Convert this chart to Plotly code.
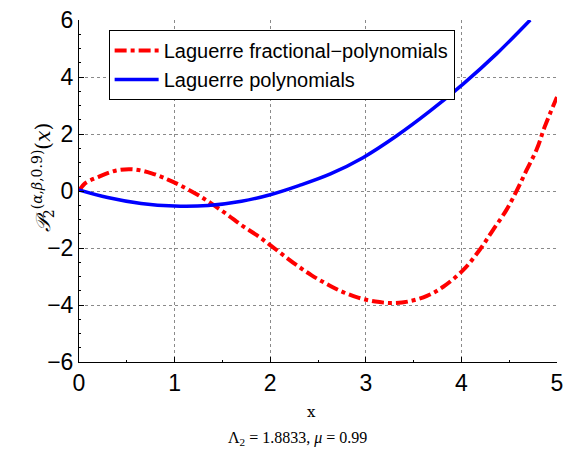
import plotly.graph_objects as go

# Data
x_frac = [0, 0.06, 0.2, 0.39, 0.57, 0.76, 0.93, 1.07, 1.25, 1.39, 1.56, 1.7, 1.86, 2.0,
          2.14, 2.28, 2.43, 2.59, 2.75, 2.92, 3.1, 3.28, 3.44, 3.64, 3.81, 4.02, 4.19,
          4.33, 4.47, 4.58, 4.68, 4.79, 4.87, 5.0]
y_frac = [0, 0.26, 0.49, 0.72, 0.76, 0.62, 0.40, 0.18, -0.15, -0.45, -0.85, -1.2, -1.55, -1.9,
          -2.26, -2.61, -2.95, -3.26, -3.53, -3.74, -3.88, -3.93, -3.88, -3.68, -3.36, -2.77,
          -2.07, -1.37, -0.67, 0.02, 0.72, 1.48, 2.24, 3.3]

x_poly = [0, 0.3, 0.65, 1.0, 1.35, 1.7, 2.0, 2.3, 2.63, 2.97, 3.32, 3.67, 4.02, 4.37, 4.72]
y_poly = [0.04, -0.23, -0.44, -0.53, -0.51, -0.36, -0.13, 0.19, 0.6, 1.17, 1.93, 2.8, 3.76, 4.82, 6.0]

x_ticks = [0, 1, 2, 3, 4, 5]
y_ticks = [-6, -4, -2, 0, 2, 4, 6]

fig = go.Figure()
fig.add_trace(go.Scatter(
    x=x_frac, y=y_frac, mode="lines", line_shape="spline",
    name="Laguerre fractional\u2212polynomials",
    line=dict(color="#ff0000", width=4, dash="dashdot"),
))
fig.add_trace(go.Scatter(
    x=x_poly, y=y_poly, mode="lines", line_shape="spline",
    name="Laguerre polynomials",
    line=dict(color="#0000ff", width=3.5),
))

axis_common = dict(
    showline=True, linecolor="black", linewidth=1,
    ticks="inside", ticklen=5, tickcolor="black",
    showgrid=True, gridcolor="#8a8a8a", griddash="dot", gridwidth=1,
    zeroline=False, mirror=False, automargin=False,
    tickfont=dict(family="Liberation Sans, Arial, sans-serif", size=23, color="black"),
    minor=dict(ticks="inside", ticklen=2, tickcolor="black", showgrid=False),
)

fig.update_layout(
    width=568, height=454,
    margin=dict(l=79, r=11, t=20, b=92),
    plot_bgcolor="white", paper_bgcolor="white",
    showlegend=True,
    legend=dict(
        x=0.062, y=0.971, xanchor="left", yanchor="top",
        bordercolor="black", borderwidth=1, bgcolor="white",
        font=dict(family="Liberation Sans, Arial, sans-serif", size=20, color="black"),
        tracegroupgap=0, itemwidth=44,
    ),
    xaxis=dict(range=[0, 5], tickvals=x_ticks, **axis_common),
    yaxis=dict(range=[-6, 6], tickvals=y_ticks, **axis_common),
)

fig.add_annotation(
    text="<i>\U0001D4AB</i><sub>2</sub><sup>(<i>\u03b1</i>,<i>\u03b2</i>,0.9)</sup>(<i>x</i>)",
    xref="paper", yref="paper", x=-0.11, y=0.54, textangle=-90,
    showarrow=False, font=dict(family="DejaVu Serif, serif", size=20, color="black"),
)
fig.add_annotation(
    text="x", xref="paper", yref="paper", x=0.487, y=-0.146, yanchor="middle",
    showarrow=False, font=dict(family="DejaVu Serif, serif", size=15, color="black"),
)
fig.add_annotation(
    text="\u039b<sub>2</sub> = 1.8833, <i>\u03bc</i> = 0.99", xref="paper", yref="paper",
    x=0.458, y=-0.225, yanchor="middle",
    showarrow=False, font=dict(family="Liberation Serif, serif", size=16, color="black"),
)

fig.write_html("out.html")
